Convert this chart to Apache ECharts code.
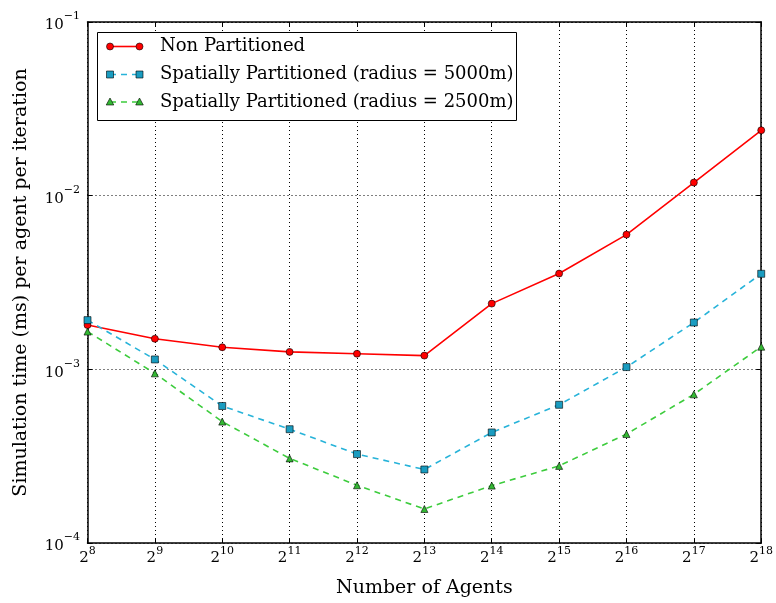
<!DOCTYPE html>
<html>
<head>
<meta charset="utf-8">
<script src="https://cdn.jsdelivr.net/npm/echarts@6/dist/echarts.min.js"></script>
<style>html,body{margin:0;padding:0;background:#fff;overflow:hidden;}#c{width:776px;height:603px;}</style>
</head>
<body>
<div id="c"></div>
<script>
// exponents of 2 (Number of Agents = 2^k)
var exponents = [8, 9, 10, 11, 12, 13, 14, 15, 16, 17, 18];
var nonPartitioned = [1.80e-3, 1.50e-3, 1.34e-3, 1.26e-3, 1.23e-3, 1.20e-3, 2.39e-3, 3.56e-3, 5.97e-3, 1.19e-2, 2.38e-2];
var spatial5000 = [1.92e-3, 1.14e-3, 6.15e-4, 4.52e-4, 3.25e-4, 2.65e-4, 4.33e-4, 6.25e-4, 1.03e-3, 1.86e-3, 3.55e-3];
var spatial2500 = [1.65e-3, 9.48e-4, 5.00e-4, 3.07e-4, 2.15e-4, 1.57e-4, 2.14e-4, 2.78e-4, 4.24e-4, 7.18e-4, 1.35e-3];
var seriesNames = ['Non Partitioned', 'Spatially Partitioned (radius = 5000m)', 'Spatially Partitioned (radius = 2500m)'];

var FONT = 'DejaVu Serif';
var C_RED = '#ff0000', C_BLUE = '#27b3d9', C_BLUE_M = '#1a9cc0', C_GREEN = '#3dcc3d', C_GREEN_M = '#33b833';

function pairs(vals) { return exponents.map(function (e, i) { return [e, vals[i]]; }); }

var richY = {
  b: { fontFamily: FONT, fontSize: 15, color: '#000', lineHeight: 22, verticalAlign: 'bottom' },
  s: { fontFamily: FONT, fontSize: 11, color: '#000', lineHeight: 12, verticalAlign: 'top' }
};
var richX = {
  b: { fontFamily: FONT, fontSize: 15, color: '#000', lineHeight: 19.5, verticalAlign: 'bottom' },
  s: { fontFamily: FONT, fontSize: 11, color: '#000', lineHeight: 12, verticalAlign: 'top' }
};

var chart = echarts.init(document.getElementById('c'), null, { renderer: 'canvas' });
var option = {
  backgroundColor: '#fff',
  animation: false,
  grid: { left: 87.5, right: 12.5, top: 22, bottom: 59, containLabel: false },
  xAxis: [{
    type: 'value', min: 8, max: 18, interval: 1,
    name: 'Number of Agents', nameLocation: 'middle', nameGap: 36,
    nameTextStyle: { fontFamily: FONT, fontSize: 19, color: '#000' },
    axisLine: { show: true, lineStyle: { color: '#000', width: 1.5 } },
    axisTick: { show: true, inside: true, length: 5, lineStyle: { color: '#000' } },
    axisLabel: { margin: 3, formatter: function (v) { return '{b|2}{s|' + v + '}'; }, rich: richX },
    splitLine: { show: true, lineStyle: { color: '#000', type: [1, 3], width: 1 } }
  }, {
    type: 'value', min: 8, max: 18, interval: 1, position: 'top',
    axisLine: { show: true, lineStyle: { color: '#000', width: 1.5 } },
    axisTick: { show: true, inside: true, length: 5, lineStyle: { color: '#000' } },
    axisLabel: { show: false }, splitLine: { show: false }
  }],
  yAxis: [{
    type: 'log', logBase: 10, min: 1e-4, max: 1e-1,
    name: 'Simulation time (ms) per agent per iteration', nameLocation: 'middle', nameGap: 57,
    nameTextStyle: { fontFamily: FONT, fontSize: 19, color: '#000' },
    axisLine: { show: true, lineStyle: { color: '#000', width: 1.5 } },
    axisTick: { show: true, inside: true, length: 5, lineStyle: { color: '#000' } },
    minorTick: { show: false },
    axisLabel: { margin: 7.5, formatter: function (v) { var e = Math.round(Math.log10(v)); return '{b|10}{s|\u2212' + Math.abs(e) + '}'; }, rich: richY },
    splitLine: { show: true, lineStyle: { color: '#000', type: [1, 3], width: 1 } }
  }, {
    type: 'log', logBase: 10, min: 1e-4, max: 1e-1, position: 'right',
    axisLine: { show: true, lineStyle: { color: '#000', width: 1.5 } },
    axisTick: { show: true, inside: true, length: 5, lineStyle: { color: '#000' } },
    axisLabel: { show: false }, splitLine: { show: false }
  }],
  series: [{
    name: seriesNames[0], type: 'line', data: pairs(nonPartitioned),
    symbol: 'circle', symbolSize: 7,
    lineStyle: { color: C_RED, width: 1.6 },
    itemStyle: { color: C_RED, borderColor: '#000', borderWidth: 0.6 }
  }, {
    name: seriesNames[1], type: 'line', data: pairs(spatial5000),
    symbol: 'rect', symbolSize: 7,
    lineStyle: { color: C_BLUE, width: 1.6, type: [6, 5] },
    itemStyle: { color: C_BLUE_M, borderColor: '#000', borderWidth: 0.6 }
  }, {
    name: seriesNames[2], type: 'line', data: pairs(spatial2500),
    symbol: 'triangle', symbolSize: 7,
    lineStyle: { color: C_GREEN, width: 1.6, type: [6, 5] },
    itemStyle: { color: C_GREEN_M, borderColor: '#000', borderWidth: 0.6 }
  }]
};
chart.setOption(option);

var legendY = [46.5, 74.5, 102];
var lineColors = [C_RED, C_BLUE, C_GREEN];
var markColors = [C_RED, C_BLUE_M, C_GREEN_M];
var g = [{ type: 'rect', shape: { x: 97.5, y: 32.5, width: 419, height: 88 }, style: { fill: '#fff', stroke: '#000', lineWidth: 1 }, z: 100 }];
legendY.forEach(function (y, i) {
  g.push({ type: 'line', shape: { x1: 110, y1: y, x2: 139.5, y2: y }, style: { stroke: lineColors[i], lineWidth: 1.6, lineDash: i === 0 ? null : [6, 5] }, z: 101 });
  [110, 139.5].forEach(function (x) {
    if (i === 0) g.push({ type: 'circle', shape: { cx: x, cy: y, r: 3.5 }, style: { fill: markColors[i], stroke: '#000', lineWidth: 0.6 }, z: 102 });
    else if (i === 1) g.push({ type: 'rect', shape: { x: x - 3.5, y: y - 3.5, width: 7, height: 7 }, style: { fill: markColors[i], stroke: '#000', lineWidth: 0.6 }, z: 102 });
    else g.push({ type: 'polygon', shape: { points: [[x, y - 4], [x + 3.8, y + 3], [x - 3.8, y + 3]] }, style: { fill: markColors[i], stroke: '#000', lineWidth: 0.6 }, z: 102 });
  });
  g.push({ type: 'text', x: 160, y: y, style: { text: seriesNames[i], font: '18px "' + FONT + '"', fill: '#000', textVerticalAlign: 'middle', verticalAlign: 'middle' }, z: 102 });
});
chart.setOption({ graphic: g });
</script>
</body>
</html>
